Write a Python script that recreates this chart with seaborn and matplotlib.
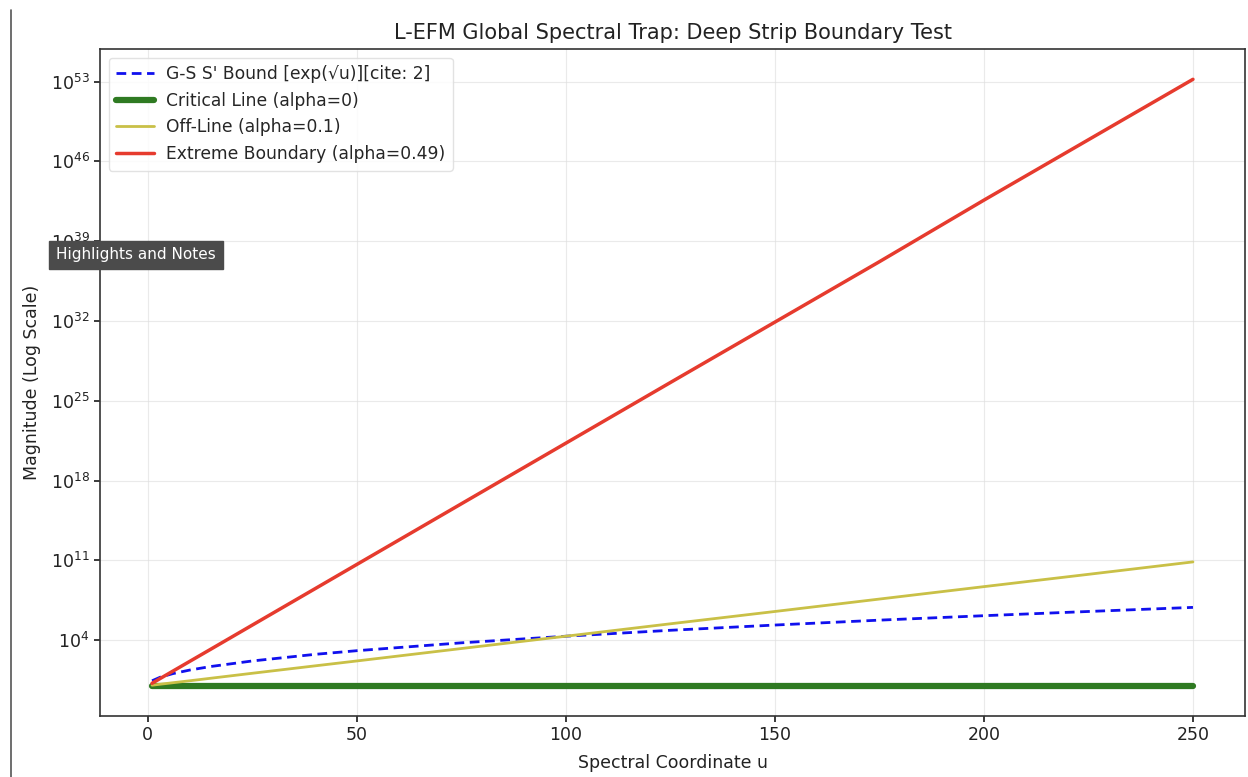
import numpy as np
import pandas as pd
import seaborn as sns
import matplotlib
matplotlib.use("Agg")
import matplotlib.pyplot as plt
from matplotlib.lines import Line2D
from matplotlib.ticker import FixedLocator, NullLocator, LogFormatterSciNotation

sns.set_theme(style="ticks")
plt.rcParams["font.family"] = ["DejaVu Sans"]

# spectral coordinate u and magnitudes (stored as log10)
u_vals = [1, 3, 6, 10, 15, 25, 40, 50, 75, 100, 125, 150, 175, 200, 225, 250]
gs_bound_log = [0.43, 0.75, 1.06, 1.37, 1.68, 2.17, 2.75, 3.07, 3.76, 4.34,
                4.86, 5.32, 5.75, 6.14, 6.51, 6.87]
critical_log = [0.0] * 16
offline_log = [0.04, 0.13, 0.26, 0.43, 0.65, 1.09, 1.74, 2.17, 3.26, 4.34,
               5.43, 6.51, 7.60, 8.69, 9.77, 10.86]
extreme_log = [0.21, 0.64, 1.28, 2.13, 3.19, 5.32, 8.51, 10.64, 15.96, 21.28,
               26.6, 31.9, 37.2, 42.6, 47.9, 53.2]
ytick_exps = [4, 11, 18, 25, 32, 39, 46, 53]

df = pd.DataFrame({
    "u": u_vals,
    "gs": np.power(10.0, gs_bound_log),
    "crit": np.power(10.0, critical_log),
    "off": np.power(10.0, offline_log),
    "ext": np.power(10.0, extreme_log),
})

fig = plt.figure(figsize=(12.48, 7.77), dpi=100)
ax = fig.add_axes([100 / 1248, 1 - 716 / 777, 1145 / 1248, 667 / 777])

sns.lineplot(data=df, x="u", y="gs", ax=ax, color="#1010ee", lw=2,
             linestyle=(0, (3.5, 2)), label="G-S S' Bound [exp(\u221au)][cite: 2]")
sns.lineplot(data=df, x="u", y="crit", ax=ax, color="#2f7a22", lw=4.5,
             label="Critical Line (alpha=0)")
sns.lineplot(data=df, x="u", y="off", ax=ax, color="#c9c047", lw=2,
             label="Off-Line (alpha=0.1)")
sns.lineplot(data=df, x="u", y="ext", ax=ax, color="#e63b2e", lw=2.5,
             label="Extreme Boundary (alpha=0.49)")

ax.set_yscale("log")
ax.yaxis.set_major_locator(FixedLocator([10.0 ** e for e in ytick_exps]))
ax.yaxis.set_major_formatter(LogFormatterSciNotation())
ax.yaxis.set_minor_locator(NullLocator())
ax.set_xticks([0, 50, 100, 150, 200, 250])

ax.grid(True, color="#dddddd", alpha=0.6, lw=0.8)
for s in ax.spines.values():
    s.set_visible(True)
    s.set_color("#333333")
    s.set_linewidth(1.2)
ax.tick_params(labelsize=12.5, colors="#222222", length=4)

ax.set_title("L-EFM Global Spectral Trap: Deep Strip Boundary Test", fontsize=15, color="#222222", pad=7)
ax.set_xlabel("Spectral Coordinate u", fontsize=12.5, color="#222222", labelpad=7)
ax.set_ylabel("Magnitude (Log Scale)", fontsize=12.5, color="#222222", labelpad=7)

leg = ax.legend(loc="upper left", fontsize=12.3, frameon=True, framealpha=0.85,
                edgecolor="#dddddd", handlelength=2.2, handletextpad=0.7,
                borderpad=0.45, labelspacing=0.5)

# screenshot artefacts: left border line and tooltip box
fig.add_artist(Line2D([11 / 1248, 11 / 1248], [0, 1 - 10 / 777], color="#555555", lw=1.2))
fig.text(56 / 1248, 1 - 255 / 777, "Highlights and Notes", fontsize=11, color="white",
         va="center", ha="left",
         bbox=dict(boxstyle="square,pad=0.45", fc="#4b4b4b", ec="#4b4b4b"))

fig.savefig("out.png", dpi=100)
